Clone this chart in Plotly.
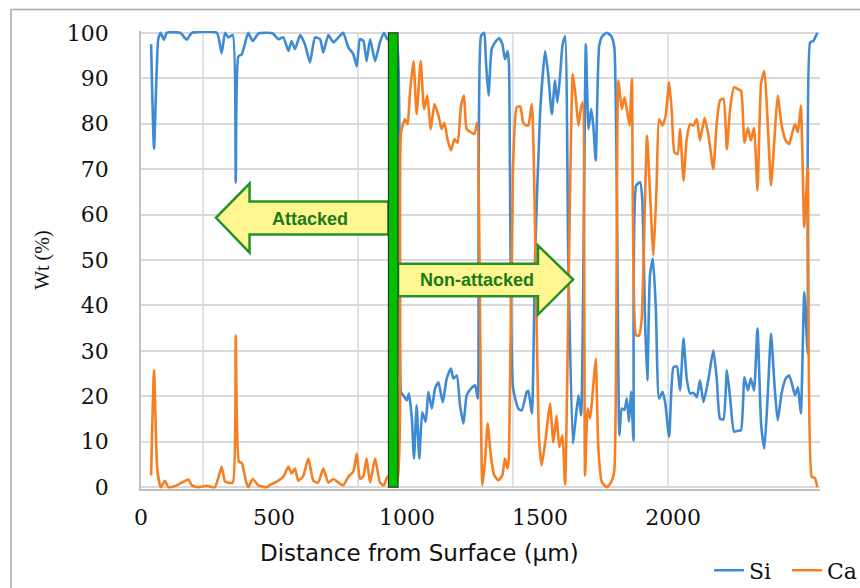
import plotly.graph_objects as go

# Line-scan EDS profile: Si and Ca weight % versus distance from the surface
si_x = [38, 49, 65, 74, 86, 97, 147, 172, 191, 285, 303, 316, 328, 345, 356, 366, 379, 395, 403, 420,
        441, 473, 497, 516, 535, 554, 566, 579, 598, 616, 635, 654, 673, 685, 704, 723, 742, 760, 779, 798,
        811, 823, 836, 848, 861, 880, 898, 913, 926, 944, 962, 977, 986, 999, 1007, 1018, 1026, 1036, 1046, 1057,
        1070, 1080, 1093, 1105, 1118, 1134, 1149, 1165, 1174, 1187, 1199, 1212, 1224, 1240, 1256, 1266, 1278, 1290, 1296, 1306,
        1318, 1331, 1346, 1358, 1368, 1378, 1383, 1398, 1418, 1431, 1450, 1456, 1469, 1481, 1500, 1519, 1531, 1544, 1556, 1565,
        1575, 1584, 1594, 1606, 1623, 1631, 1644, 1654, 1672, 1682, 1692, 1700, 1709, 1722, 1734, 1751, 1767, 1779, 1798, 1807,
        1817, 1826, 1834, 1842, 1851, 1861, 1876, 1884, 1895, 1903, 1913, 1924, 1935, 1947, 1960, 1970, 1985, 2001, 2014, 2026,
        2039, 2051, 2064, 2076, 2089, 2101, 2114, 2133, 2151, 2164, 2176, 2189, 2202, 2214, 2229, 2243, 2255, 2268, 2281, 2292,
        2304, 2317, 2331, 2343, 2356, 2368, 2381, 2393, 2408, 2423, 2436, 2448, 2458, 2469, 2480, 2493, 2506, 2515, 2527, 2542]
si_wt = [97.5, 74.5, 98.7, 100, 98.5, 100, 100, 98.5, 100, 100, 95.5, 100, 99, 99.5, 67, 94.8, 95.3, 98.6, 100, 98.2,
         99.8, 100, 99.8, 98.6, 99, 96, 98.2, 96.4, 99.5, 97.5, 93.5, 99, 98.6, 95.7, 99.5, 97.9, 99, 100, 96.8, 95.3,
         92.6, 98.6, 98.2, 93.8, 98.6, 93.8, 97.9, 100, 98.6, 99, 98, 21, 20.2, 19.1, 20.6, 15.1, 6.3, 18, 6.3, 16.5,
         14.4, 21, 17.3, 21.7, 23.1, 18.7, 23.9, 26.1, 23.9, 24.6, 18, 14, 20.2, 21.7, 22.4, 19.5, 99.3, 100, 94.2, 86.2,
         96.4, 97.9, 98.8, 97.5, 94.2, 96, 93.1, 22, 17.3, 16.9, 21, 21.2, 16.2, 50.3, 82.5, 96, 90.5, 82.1, 89.5, 84.7,
         90.5, 97.1, 99.3, 50, 9.6, 13.6, 20.2, 15.8, 97.5, 78.8, 83.2, 79.6, 71.9, 97.1, 99.3, 100, 99.3, 96.8, 11.4, 17.3,
         17, 19.5, 14.4, 21, 10.3, 66.4, 67.1, 63.4, 35.6, 23.5, 46.6, 50.3, 39.3, 19.5, 21, 18.7, 11.1, 26.4, 26.6, 21.3,
         32.7, 23.9, 20.6, 20.8, 19.8, 23.5, 18.7, 23.9, 30.1, 23.9, 15.1, 14.9, 25.7, 19.8, 12.2, 12.4, 12.5, 24.2, 21.3, 23.9,
         21.3, 34.9, 13.6, 8.5, 20.8, 33.8, 22.4, 14.7, 20.8, 23.9, 24.6, 22.4, 20.2, 22, 16.2, 42.9, 29.4, 97.9, 98.2, 100]

ca_x = [38, 49, 61, 74, 90, 103, 134, 159, 178, 191, 215, 247, 278, 303, 316, 328, 345, 356, 368, 379,
        395, 403, 420, 441, 473, 485, 510, 535, 554, 566, 579, 591, 610, 629, 648, 666, 685, 704, 723, 742,
        760, 779, 798, 811, 823, 836, 848, 861, 880, 898, 913, 926, 944, 962, 977, 992, 1002, 1011, 1024, 1036,
        1051, 1064, 1076, 1089, 1103, 1118, 1130, 1140, 1153, 1165, 1178, 1190, 1203, 1214, 1224, 1240, 1253, 1263, 1283, 1293,
        1303, 1316, 1328, 1343, 1358, 1368, 1378, 1383, 1398, 1412, 1425, 1437, 1450, 1456, 1469, 1496, 1506, 1521, 1537, 1550,
        1562, 1572, 1584, 1594, 1623, 1634, 1644, 1653, 1660, 1669, 1679, 1688, 1698, 1709, 1719, 1732, 1751, 1767, 1779, 1794,
        1807, 1817, 1826, 1836, 1845, 1861, 1872, 1882, 1895, 1902, 1913, 1926, 1938, 1947, 1960, 1972, 1985, 1995, 2005, 2017,
        2026, 2039, 2051, 2064, 2076, 2089, 2101, 2118, 2133, 2151, 2164, 2176, 2189, 2202, 2214, 2229, 2243, 2255, 2268, 2281,
        2292, 2304, 2317, 2331, 2343, 2356, 2368, 2381, 2393, 2408, 2423, 2436, 2448, 2458, 2469, 2480, 2493, 2506, 2521, 2533,
        2542]
ca_wt = [2.6, 25.7, 4.1, 0, 1.4, 0, 0.4, 1.2, 1.7, 0.4, 0, 0.3, 0, 4.5, 1.2, 1, 1, 33.4, 5.6, 5.3,
         1.2, 0, 1.8, 0.4, 0, 0.5, 1.2, 2.3, 4.5, 3, 4.1, 1.4, 2.5, 6.3, 1.4, 1, 4.1, 1, 1.8, 1,
         0.4, 2.3, 3.4, 7.4, 1.8, 2.5, 6.3, 1, 6.3, 1, 0.4, 2.3, 1, 1, 78, 81, 79.9, 86.9, 93.8, 82.1,
         93.8, 83.2, 86.2, 78.8, 84.3, 81.8, 78.8, 80.2, 76.3, 74.1, 76.6, 75.8, 84, 86.2, 78.8, 78.1, 77.7, 80.2, 0.4, 5.6,
         14, 6.3, 2.6, 1.5, 2.6, 6.3, 4.1, 6.7, 70, 83.6, 83.8, 80.2, 79.6, 79.6, 84.3, 10.7, 4.8, 10.7, 18.4, 9.9,
         15.8, 8.8, 11.5, 0.6, 90.9, 85.8, 79.6, 83.2, 84.7, 2.6, 17.3, 15.1, 21, 28.3, 8.4, 1.1, 0, 1.1, 3.7, 89.5,
         83.2, 85.8, 83.2, 79.6, 89.9, 33.4, 33.4, 37.1, 64.9, 77.4, 64.9, 51, 66.4, 81, 79.6, 81.8, 89.1, 82.5, 73.7, 73.3,
         78.8, 67.5, 76.6, 79.9, 79.6, 81, 76.3, 81.3, 77.4, 70, 80.2, 85.1, 85.5, 74.4, 83.2, 88, 87.6, 87.3, 75.8, 79.1,
         76.3, 79.1, 65.3, 89.1, 91.6, 79.6, 66.4, 77, 86.2, 79.6, 76.3, 75.5, 78.1, 79.9, 78.1, 84, 57.2, 70.4, 2.3, 2,
         0]

x_ticks = [0, 500, 1000, 1500, 2000]
x_grid = [233, 816, 1398, 1981]
x_max = 2552
y_ticks = list(range(0, 101, 10))

# interface between the attacked and the intact zone
boundary = (930, 966)

SI_COLOR = "#3E8BD4"
CA_COLOR = "#F57F22"
ARROW_FILL = "#FFF68F"
ARROW_LINE = "#23902A"
TEXT_GREEN = "#1B7A1E"

fig = go.Figure()
fig.add_trace(go.Scatter(x=si_x, y=si_wt, name="Si", mode="lines",
                         line=dict(color=SI_COLOR, width=2.6, shape="spline", smoothing=0.5)))
fig.add_trace(go.Scatter(x=ca_x, y=ca_wt, name="Ca", mode="lines",
                         line=dict(color=CA_COLOR, width=2.6, shape="spline", smoothing=0.5)))

# vertical grid lines
for gx in x_grid:
    fig.add_shape(type="line", x0=gx, x1=gx, y0=0, y1=100, xref="x", yref="y",
                  line=dict(color="#D9D9D9", width=1.5), layer="below")

# "Attacked" arrow pointing towards the surface
fig.add_shape(type="path", xref="x", yref="y", layer="above",
              path="M 282,59.3 L 408,66.8 L 408,62.9 L 930,62.9 L 930,55.6 L 408,55.6 L 408,51.6 Z",
              fillcolor=ARROW_FILL, line=dict(color=ARROW_LINE, width=2.5))
# "Non-attacked" arrow pointing into the bulk
fig.add_shape(type="path", xref="x", yref="y", layer="above",
              path="M 966,49.2 L 1492,49.2 L 1492,53.2 L 1624,45.7 L 1492,38.0 L 1492,42.0 L 966,42.0 Z",
              fillcolor=ARROW_FILL, line=dict(color=ARROW_LINE, width=2.5))
# boundary bar
fig.add_shape(type="rect", xref="x", yref="y", layer="above",
              x0=boundary[0], x1=boundary[1], y0=0, y1=100,
              fillcolor="#00C000", line=dict(color="#2B3A2B", width=1.2))

fig.add_annotation(x=635, y=59.0, xref="x", yref="y", text="<b>Attacked</b>", showarrow=False,
                   font=dict(family="Liberation Sans, Arial, sans-serif", size=18, color=TEXT_GREEN))
fig.add_annotation(x=1263, y=45.5, xref="x", yref="y", text="<b>Non-attacked</b>", showarrow=False,
                   font=dict(family="Liberation Sans, Arial, sans-serif", size=18, color=TEXT_GREEN))

# y-axis title
fig.add_annotation(x=-0.146, y=0.5, xref="paper", yref="paper", text="Wt (%)", textangle=-90,
                   showarrow=False, xanchor="center", yanchor="middle",
                   font=dict(family="Liberation Serif, Times New Roman, serif", size=20, color="#111"))
# x-axis title
fig.add_annotation(x=0.41, y=-0.139, xref="paper", yref="paper", text="Distance from Surface (\u00b5m)",
                   showarrow=False, xanchor="center", yanchor="middle",
                   font=dict(family="DejaVu Sans, sans-serif", size=23, color="#111"))

# outer chart frame (left and top edges)
fig.add_shape(type="line", xref="paper", yref="paper", x0=-0.1915, x1=-0.1915, y0=1.047, y1=-0.25,
              line=dict(color="#A8A8A8", width=1.5))
fig.add_shape(type="line", xref="paper", yref="paper", x0=-0.1915, x1=1.1, y0=1.047, y1=1.047,
              line=dict(color="#A8A8A8", width=1.5))

fig.update_layout(
    width=860, height=588,
    margin=dict(l=141, r=40, t=30.5, b=99, autoexpand=False),
    paper_bgcolor="white", plot_bgcolor="white",
    showlegend=True,
    legend=dict(orientation="h", x=0.8365, y=-0.178, xanchor="left", yanchor="middle",
                font=dict(family="DejaVu Serif, serif", size=22, color="#111"),
                bgcolor="rgba(0,0,0,0)", itemwidth=30, tracegroupgap=0, entrywidth=33),
    xaxis=dict(range=[0, x_max], tickvals=x_ticks, showgrid=False, zeroline=False,
               showline=True, linecolor="#BFBFBF", linewidth=1.5, ticks="",
               ticklabelstandoff=8,
               tickfont=dict(family="DejaVu Serif, serif", size=22, color="#111")),
    yaxis=dict(range=[-0.4, 100.4], tickvals=y_ticks, showgrid=True, gridcolor="#D9D9D9", gridwidth=1.5,
               zeroline=False, showline=True, linecolor="#BFBFBF", linewidth=1.5, ticks="",
               ticklabelstandoff=26,
               tickfont=dict(family="DejaVu Serif, serif", size=22, color="#111")),
)

fig.write_html("out.html")
